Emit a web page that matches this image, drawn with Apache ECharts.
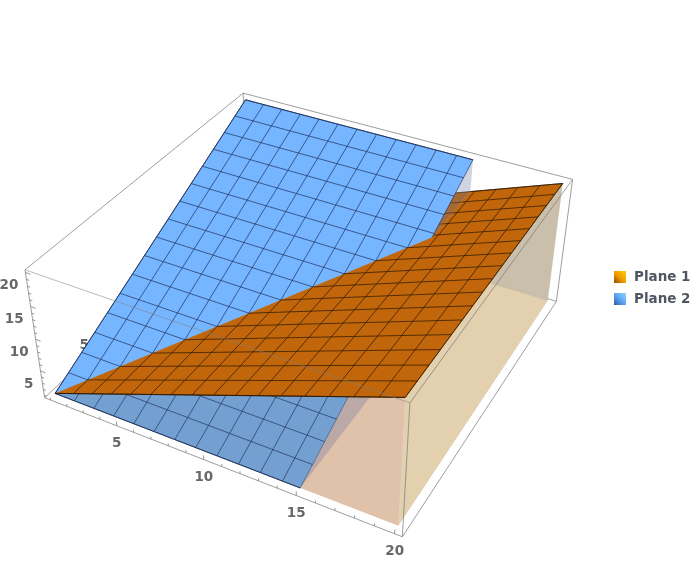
<!DOCTYPE html>
<html><head><meta charset="utf-8"><style>html,body{margin:0;padding:0;background:#fff;overflow:hidden}#c{width:697px;height:576px}</style>
<script src="https://cdn.jsdelivr.net/npm/echarts@6/dist/echarts.min.js"></script></head>
<body><div id="c"></div><script>
const meshX=[1,2.1875,3.375,4.5625,5.75,6.9375,8.125,9.3125,10.5,11.6875,12.875,14.0625,15.25,16.4375,17.625,18.8125,20];
const meshY=[1,2.1875,3.375,4.5625,5.75,6.9375,8.125,9.3125,10.5,11.6875,12.875,14.0625,15.25,16.4375,17.625,18.8125,20];
const plane1ByX=[1,2.1875,3.375,4.5625,5.75,6.9375,8.125,9.3125,10.5,11.6875,12.875,14.0625,15.25,16.4375,17.625,18.8125,20];
const plane2ByY=[1,2.1875,3.375,4.5625,5.75,6.9375,8.125,9.3125,10.5,11.6875,12.875,14.0625,15.25,16.4375,17.625,18.8125,20];
const plane2EndX=15;
const floorZ=1;
const xTickLabels=[5,10,15,20], yTickLabels=[5,10,15,20], zTickLabels=[5,10,15,20];
const boxRange=[0.62,20.38];
const cam=[15.81934,12.91337,-1.080593,27.52253,3.972532,-7.336790,-7.412111,404.8001,-0.005722826,0.01076850,-0.003461884];
function project(x,y,z){const w=cam[8]*x+cam[9]*y+cam[10]*z+1;return [(cam[0]*x+cam[1]*y+cam[2]*z+cam[3])/w,(cam[4]*x+cam[5]*y+cam[6]*z+cam[7])/w];}
function lookup(nodes,vals,t){for(let i=0;i<nodes.length-1;i++){if(t<=nodes[i+1]){const f=(t-nodes[i])/(nodes[i+1]-nodes[i]);return vals[i]+f*(vals[i+1]-vals[i]);}}return vals[vals.length-1];}
const z1=x=>lookup(meshX,plane1ByX,x), z2=y=>lookup(meshY,plane2ByY,y);
const p1=(x,y)=>[x,y,z1(x)], p2=(x,y)=>[x,y,z2(y)];
const [bMin,bMax]=boxRange, xEnd=meshX[16], yEnd=meshY[16], x0=meshX[0], y0=meshY[0], xB=plane2EndX;
function L(a,b,stroke,w){return {a,b,stroke,w};}
const ORANGE='#c1660a',BLUE='#76b5ff',BLUELOW='#749fd1';
const mO='rgba(45,22,0,0.85)',mB='rgba(25,45,90,0.8)',mBL='rgba(30,50,90,0.8)';
const boxC='rgba(125,125,125,0.75)',tickC='rgba(125,125,125,0.8)',overC='rgba(130,130,130,0.55)';
const W=.85;
const layers=[];
{const lines=[[[bMin,bMin,bMin],[bMin,bMax,bMin]],[[bMin,bMax,bMin],[bMax,bMax,bMin]],[[bMin,bMax,bMin],[bMin,bMax,bMax]],[[bMax,bMax,bMin],[bMax,bMax,bMax]],[[bMin,bMax,bMax],[bMax,bMax,bMax]],[[bMin,bMin,bMin],[bMin,bMin,bMax]],[[bMin,bMin,bMax],[bMin,bMax,bMax]]].map(s=>L(s[0],s[1],boxC,1));
 const texts=[];
 for(let t=1;t<=20;t++){const major=t%5===0;lines.push(L([bMin,bMin,t],[bMin+(major?0.3:0.16),bMin,t],tickC,1));}
 zTickLabels.forEach(t=>texts.push({at:[bMin,bMin,t],dx:-7,dy:13.5,text:String(t),align:'right'}));
 yTickLabels.forEach(t=>texts.push({at:[bMin,t,bMin],dx:-12.5,dy:-3.5,text:String(t)}));
 layers.push({name:'Box',lines,texts});}
layers.push({name:'Plane 1',poly:[[x0,yEnd,floorZ],[xEnd,yEnd,floorZ],p1(xEnd,yEnd)],fill:'rgba(215,228,248,0.95)'});
{const lines=[];meshX.filter(x=>x<xB).forEach(x=>lines.push(L(p1(x,x),p1(x,yEnd),mO,W)));meshY.forEach(y=>lines.push(L(p1(x0,y),p1(Math.min(y,xB),y),mO,W)));
 layers.push({name:'Plane 1',poly:[p1(x0,y0),p1(xB,xB),p1(xB,yEnd),p1(x0,yEnd)],fill:ORANGE,lines});}
layers.push({name:'Plane 1',poly:[p1(x0,y0),p1(xEnd,y0),[xEnd,y0,floorZ]],fill:'#e0c2ab'});
layers.push({name:'Plane 2',poly:[[xB,y0,floorZ],[xB,yEnd,floorZ],p2(xB,yEnd)],fill:'rgba(100,113,157,0.3)'});
{const lines=[];meshX.filter(x=>x<xB).forEach(x=>lines.push(L(p2(x,y0),p2(x,x),mBL,W)));meshY.filter(y=>y<xB).forEach(y=>lines.push(L(p2(y,y),p2(xB,y),mBL,W)));
 lines.push(L(p2(x0,y0),p2(xB,y0),mBL,1),L(p2(xB,y0),p2(xB,xB),mBL,.6));
 layers.push({name:'Plane 2',poly:[p2(x0,y0),p2(xB,y0),p2(xB,xB)],fill:BLUELOW,lines});}
{const lines=[];meshX.filter(x=>x<xB).forEach(x=>lines.push(L(p2(x,x),p2(x,yEnd),mB,W)));meshY.forEach(y=>lines.push(L(p2(x0,y),p2(Math.min(y,xB),y),mB,W)));
 lines.push(L(p2(x0,y0),p2(x0,yEnd),mB,1),L(p2(x0,yEnd),p2(xB,yEnd),mB,1),L(p2(xB,xB),p2(xB,yEnd),mB,.8));
 layers.push({name:'Plane 2',poly:[p2(x0,y0),p2(xB,xB),p2(xB,yEnd),p2(x0,yEnd)],fill:BLUE,lines});}
{const lines=[];meshX.forEach(x=>lines.push(L(p1(x,y0),p1(x,x<=xB?x:yEnd),mO,W)));
 meshY.forEach(y=>lines.push(L(p1(y<=xB?y:xB,y),p1(xEnd,y),mO,W)));
 lines.push(L(p1(x0,y0),p1(xEnd,y0),mO,1),L(p1(xEnd,y0),p1(xEnd,yEnd),mO,1),L(p1(xB,yEnd),p1(xEnd,yEnd),mO,.8));
 layers.push({name:'Plane 1',poly:[p1(x0,y0),p1(xEnd,y0),p1(xEnd,yEnd),p1(xB,yEnd),p1(xB,xB)],fill:ORANGE,lines});}
layers.push({name:'Plane 1',poly:[[xEnd,y0,floorZ],p1(xEnd,y0),p1(xEnd,yEnd),[xEnd,yEnd,floorZ]],fill:'rgba(172,121,27,0.35)'});
{const lines=[[[bMin,bMin,bMin],[bMax,bMin,bMin],boxC],[[bMax,bMin,bMin],[bMax,bMax,bMin],boxC],[[bMax,bMin,bMin],[bMax,bMin,bMax],boxC],[[bMin,bMin,bMax],[bMax,bMin,bMax],overC],[[bMax,bMin,bMax],[bMax,bMax,bMax],boxC]].map(s=>L(s[0],s[1],s[2],1));
 const texts=[];
 for(let t=1;t<=20;t++){const major=t%5===0;lines.push(L([t,bMin,bMin],[t,bMin,bMin+(major?0.7:0.4)],tickC,1));}
 xTickLabels.forEach(t=>texts.push({at:[t,bMin,bMin],dx:0,dy:18,text:String(t)}));
 layers.push({name:'Box',lines,texts});}
function render(layer){return function(params,api){
 const C=q=>{const p=project(q[0],q[1],q[2]);return api.coord(p);};const ch=[];
 if(layer.poly)ch.push({type:'polygon',shape:{points:layer.poly.map(C)},style:{fill:layer.fill}});
 (layer.lines||[]).forEach(l=>{const a=C(l.a),b=C(l.b);ch.push({type:'line',shape:{x1:a[0],y1:a[1],x2:b[0],y2:b[1]},style:{stroke:l.stroke,lineWidth:l.w,fill:null}});});
 (layer.texts||[]).forEach(t=>{const a=C(t.at);ch.push({type:'text',style:{text:t.text,x:a[0]+t.dx,y:a[1]+t.dy,fill:'#686868',font:'bold 13.5px "DejaVu Sans"',align:t.align||'center',verticalAlign:'middle'}});});
 return {type:'group',children:ch};};}
const grad=(a,b,c)=>new echarts.graphic.LinearGradient(1,0,0,1,[{offset:0,color:a},{offset:.55,color:b},{offset:1,color:c}]);
const chart=echarts.init(document.getElementById('c'),null,{renderer:'canvas'});
chart.setOption({animation:false,backgroundColor:'#fff',
 grid:{left:0,right:0,top:0,bottom:0},
 xAxis:{type:'value',min:0,max:697,show:false},yAxis:{type:'value',min:0,max:576,inverse:true,show:false},
 legend:{orient:'vertical',left:614,top:270,padding:0,itemWidth:12,itemHeight:12,itemGap:8,selectedMode:false,
  textStyle:{fontFamily:'DejaVu Sans',fontWeight:'bold',fontSize:13.5,color:'#4f5661',padding:[0,0,0,3]},
  data:[{name:'Plane 1',icon:'rect',itemStyle:{color:grad('#ffd000','#f09a00','#8a4a00')}},{name:'Plane 2',icon:'rect',itemStyle:{color:grad('#8fd8ff','#5aa0f0','#2f5aa0')}}]},
 series:layers.map(l=>({type:'custom',name:l.name,coordinateSystem:'cartesian2d',clip:false,silent:true,data:[[0,0]],renderItem:render(l),progressive:0,itemStyle:{color:l.name==='Plane 1'?'#c1660a':'#76b5ff'}}))
});
</script></body></html>
